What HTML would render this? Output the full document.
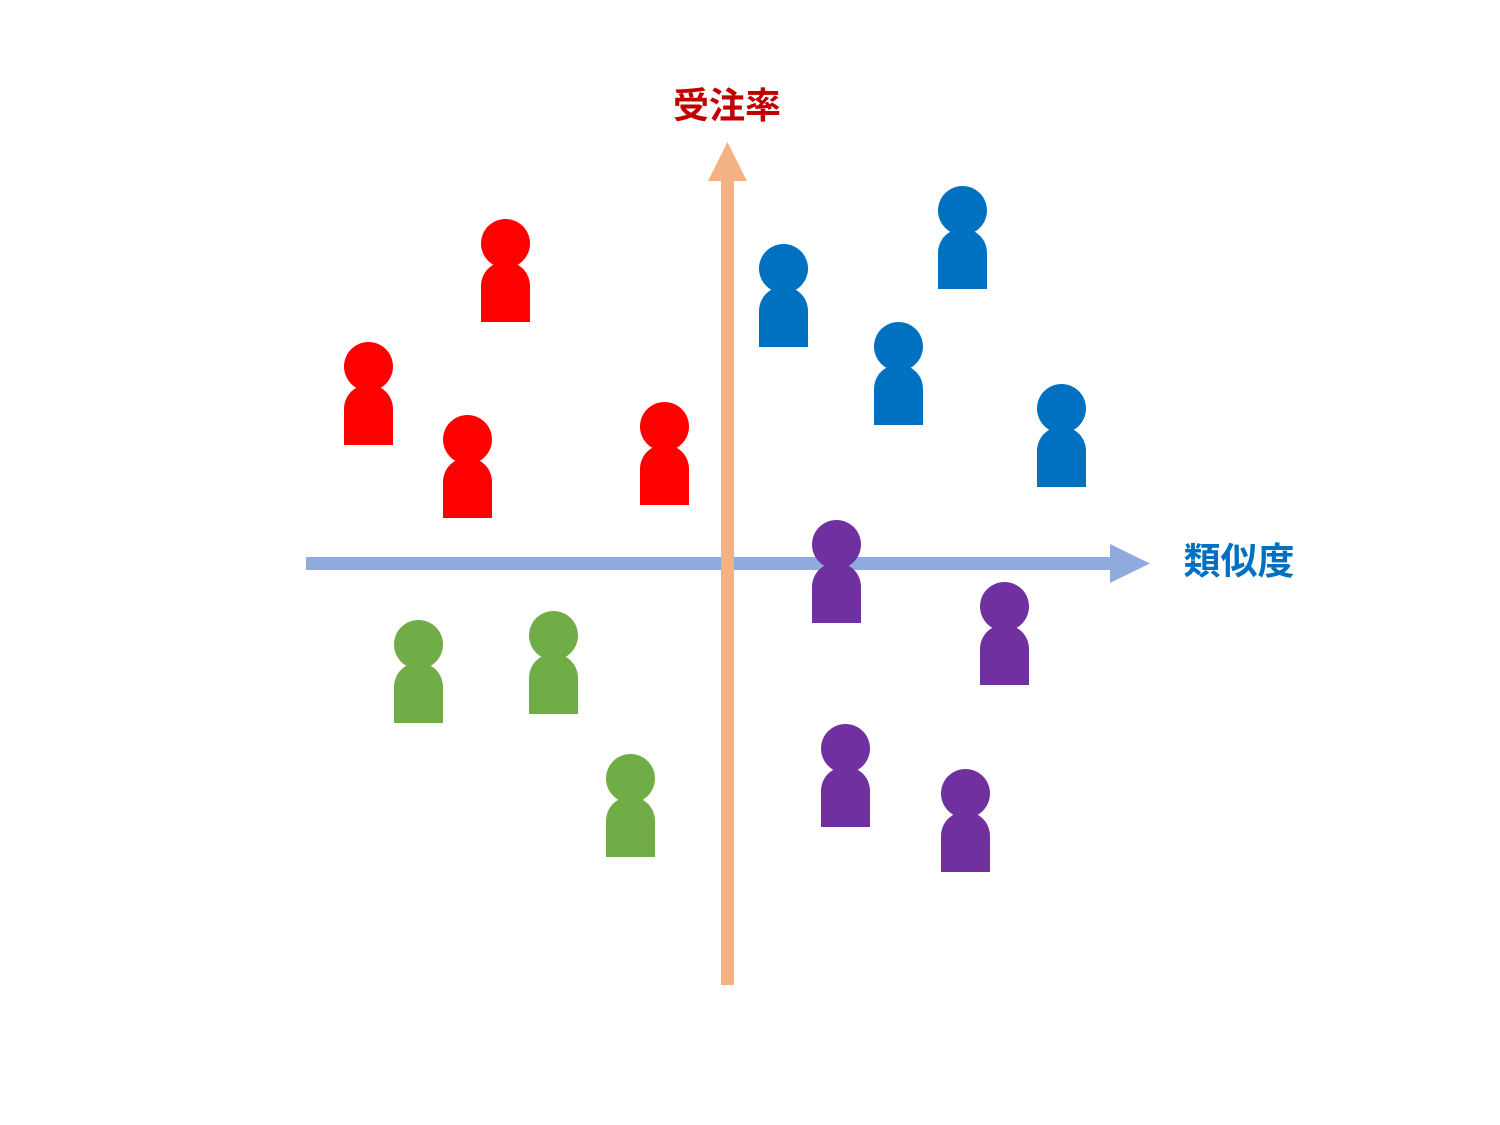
<!DOCTYPE html>
<html><head><meta charset="utf-8"><style>
html,body{margin:0;padding:0;background:#fff;}
svg{display:block;}
text{font-family:"Liberation Sans","Noto Sans CJK JP",sans-serif;font-weight:bold;}
</style></head><body>
<svg width="1500" height="1125" viewBox="0 0 1500 1125" xmlns="http://www.w3.org/2000/svg">
<defs>
<symbol id="p" overflow="visible">
<path d="M0,103 L0,67 A24.5,24.5 0 0 1 49,67 L49,103 Z"/>
<circle cx="24.5" cy="24.5" r="24.5"/>
</symbol>
</defs>
<rect x="306" y="557" width="806" height="13" fill="#8FAADC"/>
<polygon points="1110,544 1150,563.5 1110,583" fill="#8FAADC"/>
<rect x="721" y="178" width="13" height="807" fill="#F4B183"/>
<polygon points="708,181 727.5,142 747,181" fill="#F4B183"/>
<text x="727" y="118" font-size="36" fill="#C00000" text-anchor="middle">受注率</text>
<text x="1239" y="574" font-size="37" fill="#0070C0" text-anchor="middle">類似度</text>
<g fill="#FF0000">
<use href="#p" x="481" y="219"/>
<use href="#p" x="344" y="342"/>
<use href="#p" x="443" y="415"/>
<use href="#p" x="640" y="402"/>
</g>
<g fill="#0070C0">
<use href="#p" x="759" y="244"/>
<use href="#p" x="938" y="186"/>
<use href="#p" x="874" y="322"/>
<use href="#p" x="1037" y="384"/>
</g>
<g fill="#7030A0">
<use href="#p" x="812" y="520"/>
<use href="#p" x="980" y="582"/>
<use href="#p" x="821" y="724"/>
<use href="#p" x="941" y="769"/>
</g>
<g fill="#70AD47">
<use href="#p" x="394" y="620"/>
<use href="#p" x="529" y="611"/>
<use href="#p" x="606" y="754"/>
</g>
</svg>
</body></html>
